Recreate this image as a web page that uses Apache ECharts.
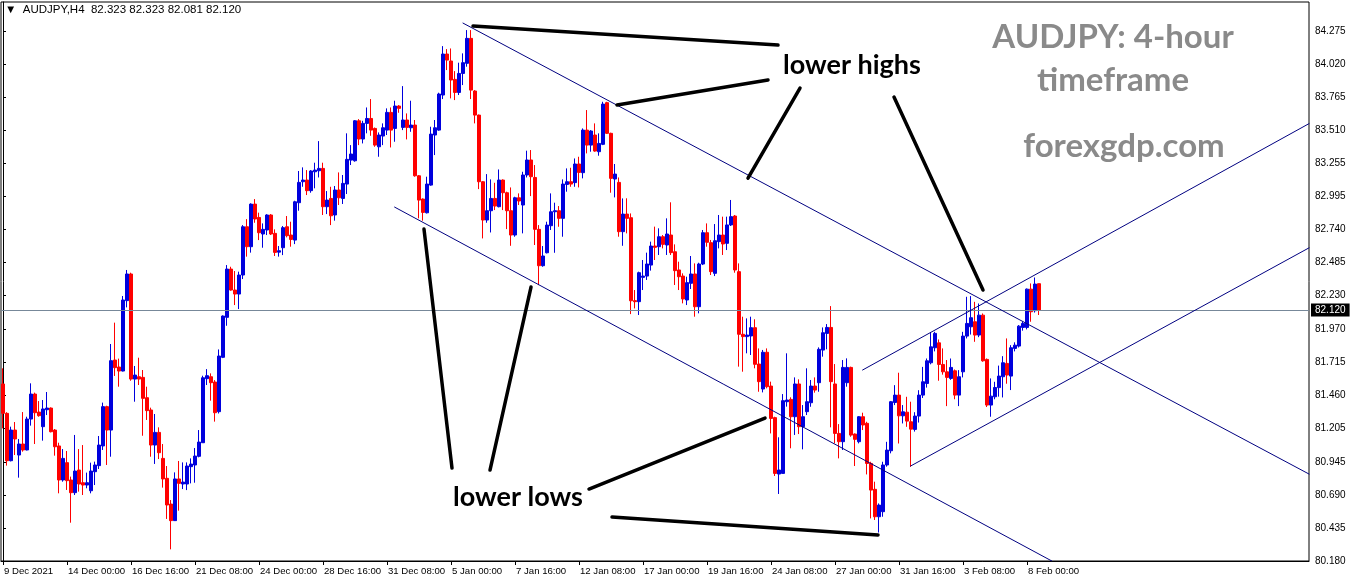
<!DOCTYPE html>
<html><head><meta charset="utf-8">
<script src="https://cdn.jsdelivr.net/npm/echarts@6/dist/echarts.min.js"></script>
<style>html,body{margin:0;padding:0;background:#fff}#c{width:1350px;height:584px}</style>
</head><body><div id="c"></div>
<script>
// ---- data (AUDJPY H4) ----
const opens = [
81.548,81.321,80.955,81.192,80.999,81.084,81.038,81.277,81.470,81.331,
81.218,81.349,81.362,81.192,81.069,80.806,80.940,80.806,80.708,80.883,
80.785,80.767,80.723,80.870,80.917,81.069,81.373,81.192,81.733,81.679,
81.648,82.192,82.398,81.586,81.604,81.599,81.442,81.347,81.076,81.174,
80.973,80.819,80.620,80.492,80.814,80.775,80.775,80.909,80.922,80.989,
81.094,81.589,81.604,81.563,81.334,81.754,82.063,82.436,82.274,82.243,
82.390,82.763,82.609,82.938,82.835,82.707,82.738,82.854,82.712,82.567,
82.601,82.763,82.699,82.660,82.949,83.111,83.124,83.042,83.188,83.196,
83.214,82.918,82.982,82.854,83.047,82.982,83.093,83.278,83.273,83.582,
83.441,83.562,83.600,83.523,83.381,83.464,83.510,83.647,83.523,83.696,
83.531,83.588,83.528,83.549,83.157,82.977,82.871,83.085,83.472,83.510,
83.781,84.098,84.044,83.902,83.801,83.948,84.026,84.219,83.812,83.626,
83.111,82.815,82.887,82.982,82.918,83.124,83.026,82.887,82.699,82.987,
82.931,83.163,83.279,83.144,82.743,82.462,82.562,82.771,82.879,82.887,
82.828,83.090,83.111,83.104,83.248,83.181,83.510,83.394,83.472,83.343,
83.400,83.722,83.485,83.132,83.106,82.725,82.861,82.833,82.192,82.184,
82.372,82.382,82.467,82.614,82.609,82.686,82.622,82.699,82.570,82.429,
82.382,82.197,82.326,82.398,82.145,82.475,82.717,82.640,82.403,82.648,
82.699,82.635,82.777,82.846,82.416,81.932,81.914,81.919,81.983,81.702,
81.509,81.793,81.532,81.288,80.852,80.857,81.411,81.429,81.295,81.548,
81.218,81.334,81.403,81.532,81.558,81.810,81.939,81.985,81.548,81.166,
81.102,81.558,81.676,81.161,81.102,81.295,81.244,80.934,80.734,80.522,
80.561,80.922,81.032,81.405,81.462,81.302,81.330,81.256,81.197,81.300,
81.462,81.552,81.712,81.828,81.866,81.699,81.642,81.591,81.650,81.462,
81.642,81.918,81.990,82.029,81.926,82.080,81.738,81.385,81.449,81.520,
81.604,81.707,81.609,81.823,81.841,81.985,81.985,82.281,82.114,82.323
];
const highs = [
81.669,81.330,81.218,81.254,81.123,81.331,81.295,81.553,81.481,81.416,
81.424,81.486,81.367,81.200,81.094,81.045,81.030,80.832,81.154,81.045,
81.076,80.863,80.940,80.948,81.146,81.404,81.380,81.857,82.022,81.744,
82.228,82.429,82.408,81.687,81.751,81.656,81.527,81.365,81.316,81.213,
81.084,80.914,80.651,80.865,80.953,80.942,80.942,80.973,81.053,81.192,
81.612,81.663,81.630,81.578,81.815,82.078,82.467,82.454,82.421,82.416,
82.776,82.822,82.944,82.977,82.872,82.789,82.860,82.861,82.743,82.614,
82.769,82.846,82.802,82.964,83.194,83.222,83.201,83.201,83.258,83.425,
83.258,83.039,83.072,83.078,83.183,83.163,83.485,83.394,83.588,83.595,
83.582,83.685,83.750,83.530,83.492,83.562,83.678,83.685,83.737,83.703,
83.850,83.639,83.737,83.588,83.163,82.982,83.150,83.536,83.588,83.799,
84.159,84.136,84.141,83.966,84.031,84.103,84.283,84.283,83.819,83.630,
83.116,83.170,83.129,83.103,83.206,83.129,83.034,83.067,82.995,83.021,
83.188,83.351,83.356,83.240,82.776,82.614,82.802,83.021,82.949,82.923,
83.129,83.214,83.219,83.291,83.304,83.523,83.665,83.510,83.562,83.485,
83.729,83.729,83.490,83.248,83.144,82.982,82.983,82.866,82.274,82.416,
82.506,82.563,82.648,82.764,82.751,82.699,82.828,82.952,82.627,82.493,
82.403,82.377,82.537,82.480,82.485,82.738,82.789,82.661,82.784,82.854,
82.841,82.841,82.970,82.854,82.480,82.068,82.055,82.068,82.048,81.823,
81.811,81.823,81.566,81.295,81.136,81.470,81.785,81.445,81.599,81.584,
81.385,81.669,81.579,81.599,81.831,81.985,82.011,82.150,81.702,81.238,
81.733,81.746,81.682,81.166,81.300,81.326,81.256,80.947,80.793,80.625,
80.947,81.101,81.416,81.539,81.635,81.385,81.449,81.411,81.330,81.500,
81.680,81.745,81.950,81.951,81.892,81.823,81.733,81.745,81.660,81.655,
81.951,82.222,82.227,82.183,82.170,82.093,81.745,81.591,81.565,81.690,
81.763,81.900,81.848,81.870,82.003,82.030,82.286,82.325,82.371,82.323
];
const lows = [
81.205,80.917,80.950,80.999,80.824,81.025,81.035,81.226,81.084,81.295,
81.110,81.308,81.174,80.994,80.703,80.793,80.729,80.476,80.690,80.716,
80.690,80.742,80.703,80.767,80.891,81.038,80.922,80.986,81.610,81.527,
81.645,82.140,81.573,81.411,81.540,81.148,81.270,80.986,80.930,80.968,
80.747,80.505,80.270,80.490,80.569,80.736,80.728,80.780,80.785,80.981,
81.094,81.540,81.419,81.257,81.320,81.748,81.998,82.269,82.158,82.127,
82.359,82.532,82.563,82.794,82.660,82.601,82.699,82.699,82.537,82.532,
82.544,82.681,82.609,82.629,82.887,83.072,83.008,83.026,83.060,83.144,
82.854,82.861,82.776,82.810,82.931,82.939,83.016,83.240,83.266,83.394,
83.407,83.485,83.466,83.381,83.304,83.394,83.472,83.376,83.420,83.644,
83.510,83.438,83.497,83.150,82.828,82.810,82.866,83.080,83.317,83.505,
83.750,83.974,83.755,83.742,83.781,83.858,84.000,83.750,83.562,83.054,
82.673,82.794,82.719,82.892,82.913,82.892,82.745,82.616,82.686,82.931,
82.712,83.144,83.000,82.622,82.312,82.454,82.557,82.738,82.562,82.763,
82.686,83.034,83.072,83.072,83.067,83.137,83.330,83.343,83.343,83.312,
83.394,83.480,83.026,82.990,82.686,82.616,82.712,82.088,82.132,82.081,
82.274,82.352,82.424,82.506,82.545,82.596,82.545,82.545,82.313,82.274,
82.171,82.158,82.282,82.068,82.094,82.467,82.609,82.390,82.382,82.596,
82.545,82.583,82.769,82.408,81.682,81.643,81.785,81.772,81.669,81.488,
81.483,81.514,81.166,80.837,80.698,80.857,81.373,81.051,81.154,81.161,
81.043,81.308,81.372,81.481,81.488,81.759,81.816,81.213,81.089,80.973,
81.038,81.527,81.140,80.914,81.089,81.192,80.849,80.509,80.497,80.400,
80.522,80.909,81.012,81.385,81.088,81.243,81.217,80.908,81.180,81.250,
81.440,81.520,81.700,81.800,81.573,81.620,81.377,81.580,81.430,81.377,
81.599,81.900,81.930,81.874,81.910,81.720,81.370,81.295,81.430,81.450,
81.444,81.550,81.501,81.800,81.830,81.960,81.970,82.029,82.100,82.081
];
const closes = [
81.321,80.955,81.192,81.123,81.084,81.038,81.277,81.470,81.326,81.303,
81.355,81.362,81.179,81.063,80.806,80.973,80.801,80.708,80.875,80.775,
80.767,80.785,80.875,80.922,81.076,81.373,81.192,81.728,81.674,81.648,
82.197,82.398,81.586,81.617,81.586,81.437,81.342,81.076,81.174,81.017,
80.814,80.613,80.492,80.814,80.780,80.790,80.914,80.929,80.991,81.099,
81.596,81.612,81.558,81.326,81.764,82.073,82.436,82.274,82.243,82.390,
82.763,82.609,82.938,82.823,82.717,82.743,82.854,82.707,82.565,82.578,
82.756,82.694,82.665,82.956,83.106,83.124,83.042,83.194,83.201,83.214,
82.918,82.969,82.848,83.047,82.987,83.098,83.284,83.325,83.582,83.441,
83.562,83.600,83.510,83.394,83.472,83.528,83.647,83.510,83.696,83.678,
83.588,83.531,83.549,83.157,82.969,82.874,83.093,83.479,83.528,83.789,
84.098,84.051,83.897,83.801,83.948,84.031,84.219,83.819,83.626,83.111,
82.815,82.887,82.982,82.923,83.124,83.026,82.887,82.699,82.987,82.962,
83.163,83.279,83.150,82.743,82.462,82.537,82.776,82.879,82.887,82.828,
83.093,83.111,83.093,83.248,83.183,83.510,83.394,83.503,83.348,83.407,
83.711,83.485,83.137,83.170,82.725,82.861,82.828,82.191,82.184,82.408,
82.382,82.475,82.614,82.604,82.686,82.627,82.707,82.563,82.424,82.377,
82.205,82.331,82.398,82.145,82.475,82.717,82.643,82.416,82.655,82.699,
82.630,82.777,82.841,82.429,81.932,81.914,81.926,81.983,81.700,81.566,
81.793,81.527,81.282,80.857,80.883,81.419,81.424,81.295,81.548,81.218,
81.295,81.411,81.532,81.501,81.816,81.944,81.985,81.566,81.166,81.102,
81.676,81.676,81.153,81.120,81.295,81.231,80.934,80.728,80.522,80.612,
80.922,81.037,81.411,81.462,81.302,81.333,81.261,81.199,81.300,81.462,
81.565,81.727,81.835,81.939,81.699,81.642,81.599,81.676,81.462,81.604,
81.918,82.016,82.060,81.926,82.080,81.727,81.385,81.454,81.521,81.609,
81.712,81.617,81.828,81.848,81.995,82.016,82.281,82.106,82.320,82.120
];
const barSlots = 327;
const xLabelIndex = [0,16,32,48,64,80,96,112,128,144,160,176,192,208,224,240,256];
const xLabelText = ['9 Dec 2021','14 Dec 00:00','16 Dec 16:00','21 Dec 08:00','24 Dec 00:00','28 Dec 16:00',
  '31 Dec 08:00','5 Jan 00:00','7 Jan 16:00','12 Jan 08:00','17 Jan 00:00','19 Jan 16:00','24 Jan 08:00',
  '27 Jan 00:00','31 Jan 16:00','3 Feb 08:00','8 Feb 00:00'];
const yTicks = [80.180,80.435,80.690,80.945,81.205,81.460,81.715,81.970,82.230,82.485,82.740,82.995,83.255,83.510,83.765,84.020,84.275];
const lastPrice = 82.120;
// trend lines: [barIndexA, priceA, barIndexB, priceB]
const blueLines = [
  [115.0, 84.337, 326.5, 80.852],
  [97.9, 82.915, 262.2, 80.180],
  [214.9, 81.656, 326.5, 83.560],
  [226.9, 80.914, 326.5, 82.600]
];
const blackLines = [
  [117.5, 84.314, 193.75, 84.167],
  [153.5, 83.704, 191.25, 83.897],
  [186.25, 83.139, 199.25, 83.835],
  [222.75, 83.765, 245.0, 82.274],
  [105.25, 82.745, 112.25, 80.898],
  [132.0, 82.297, 121.75, 80.883],
  [146.5, 80.736, 190.5, 81.285],
  [152.25, 80.520, 218.75, 80.381]
];

// ---- chart ----
const chart = echarts.init(document.getElementById('c'), null, {renderer: 'canvas'});
const cats = Array.from({length: barSlots}, (_, i) => i);
const labelMap = {};
xLabelIndex.forEach((k, j) => labelMap[k] = xLabelText[j]);
const showLabel = (idx) => labelMap[idx] !== undefined;
const candles = opens.map((o, i) => [o, closes[i], lows[i], highs[i]]);
const n = opens.length - 1;
const header = '▼  AUDJPY,H4  ' + opens[n].toFixed(3) + ' ' + highs[n].toFixed(3) + ' ' + lows[n].toFixed(3) + ' ' + closes[n].toFixed(3);
const axisFont = 'Liberation Sans';

const lineSeries = (arr, color, width) => arr.map(s => ({
  type: 'line', xAxisIndex: 1, yAxisIndex: 0, silent: true, symbol: 'none', animation: false,
  data: [[s[0], s[1]], [s[2], s[3]]],
  lineStyle: {color: color, width: width, cap: 'round'}, z: 5
}));

const centerText = (x, y, text, font, fill) => ({type: 'text', x: x, y: y,
  style: {text: text, font: font, fill: fill, textAlign: 'center', textVerticalAlign: 'middle', align: 'center', verticalAlign: 'middle'}});

const option = {
  animation: false,
  backgroundColor: '#ffffff',
  grid: {left: 1, right: 41, top: 2, bottom: 23, show: true, borderColor: '#000', borderWidth: 1, containLabel: false},
  xAxis: [{
    type: 'category', data: cats, boundaryGap: true, gridIndex: 0,
    axisLine: {show: true, lineStyle: {color: '#000', width: 1}},
    axisTick: {show: true, alignWithLabel: true, interval: (i) => showLabel(i), length: 4, lineStyle: {color: '#000'}},
    axisLabel: {show: true, interval: (i) => showLabel(i), formatter: (v, i) => labelMap[i] || '',
      align: 'left', padding: [0, 0, 0, 1], margin: 5, fontSize: 9.6, color: '#000', fontFamily: axisFont},
    splitLine: {show: false}
  }, {
    type: 'value', gridIndex: 0, min: -0.5, max: barSlots - 0.5, show: false
  }],
  yAxis: [{
    type: 'value', position: 'right', min: 80.18, max: 84.5, scale: true,
    axisLine: {show: true, lineStyle: {color: '#000', width: 1}},
    axisTick: {show: true, customValues: yTicks, length: 3, lineStyle: {color: '#000'}},
    axisLabel: {show: true, customValues: yTicks, formatter: (v) => v.toFixed(3), margin: 6,
      fontSize: 10, color: '#000', fontFamily: axisFont},
    splitLine: {show: false}
  }],
  graphic: [
    {type: 'text', x: 5, y: 4, style: {text: header, font: '11.5px "Liberation Sans"', fill: '#000'}},
    centerText(1113, 37, 'AUDJPY: 4-hour', 'bold 33px Lato', '#8a8a8a'),
    centerText(1113, 80, 'timeframe', 'bold 33px Lato', '#8a8a8a'),
    centerText(1124, 146, 'forexgdp.com', 'bold 33px Lato', '#8a8a8a'),
    centerText(852, 65, 'lower highs', 'bold 27px Lato', '#000'),
    centerText(518, 497, 'lower lows', 'bold 27px Lato', '#000')
  ],
  series: [{
    type: 'candlestick', xAxisIndex: 0, yAxisIndex: 0, data: candles, barWidth: 3,
    itemStyle: {color: '#0000dd', color0: '#ff0000', borderColor: '#0000dd', borderColor0: '#ff0000', borderWidth: 1},
    markLine: {
      silent: true, symbol: ['none', 'none'], animation: false,
      lineStyle: {color: '#778899', width: 1, type: 'solid'},
      label: {show: true, position: 'end', formatter: lastPrice.toFixed(3), backgroundColor: '#000', color: '#fff',
        padding: [2, 4, 1, 4], distance: 2, fontSize: 10, fontFamily: axisFont},
      data: [{yAxis: lastPrice}]
    },
    z: 3
  }].concat(lineSeries(blueLines, '#000080', 1)).concat(lineSeries(blackLines, '#000', 3.5))
};
chart.setOption(option);
</script>
</body></html>
